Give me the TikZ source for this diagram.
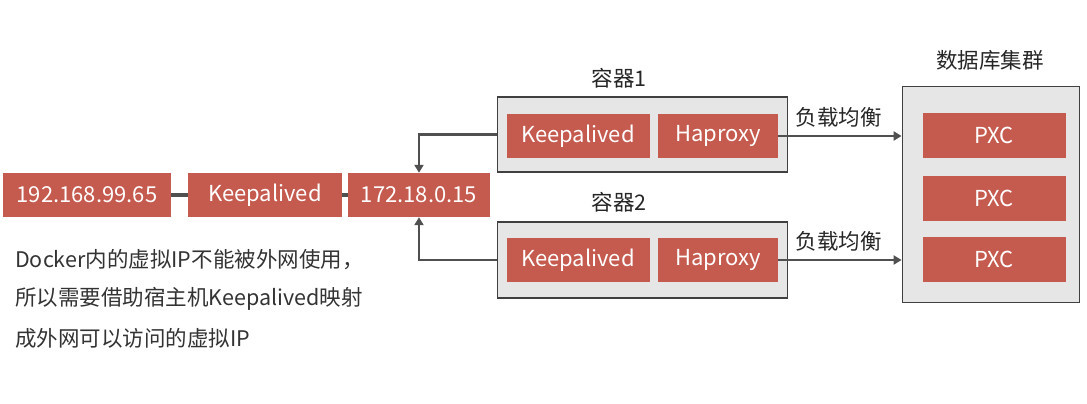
\documentclass[tikz,border=0pt]{standalone}
\usepackage{fontspec}
\setmainfont{Noto Sans CJK SC}
\usetikzlibrary{arrows.meta}
\definecolor{boxred}{HTML}{C55A4E}
\definecolor{grayfill}{HTML}{E6E6E6}
\definecolor{grayline}{HTML}{404040}
\definecolor{conn}{HTML}{505050}
\tikzset{
  redbox/.style={fill=boxred, draw=none, text=white, font=\fontsize{22}{24}\selectfont, anchor=center, inner sep=0pt},
  graybox/.style={fill=grayfill, draw=grayline, line width=1.8pt, inner sep=0pt},
  lbl/.style={font=\fontsize{21.5}{24}\selectfont, text=black!85, inner sep=0pt},
  note/.style={font=\fontsize{21.5}{24}\selectfont, text=black!80, inner sep=0pt},
  link/.style={draw=conn, line width=4.5pt},
  arr/.style={draw=conn, line width=2.8pt, -{Triangle[length=8pt,width=9pt]}},
}
\begin{document}
\begin{tikzpicture}[x=1pt,y=-1pt]
\useasboundingbox (0,0) rectangle (1087,404);
% left chain
\node[redbox, minimum width=168pt, minimum height=44pt] (ip1) at (87,195) {192.168.99.65};
\node[redbox, minimum width=154pt, minimum height=44pt] (kh) at (265,195) {Keepalived};
\node[redbox, minimum width=142pt, minimum height=44pt] (ip2) at (419,195) {172.18.0.15};
\draw[link] (ip1.east) -- (kh.west);
\draw[link] (kh.east) -- (ip2.west);
% containers
\node[graybox, minimum width=290pt, minimum height=75pt] (c1) at (642.5,134.5) {};
\node[graybox, minimum width=290pt, minimum height=76pt] (c2) at (642.5,260) {};
\node[redbox, minimum width=143pt, minimum height=44pt] (k1) at (578,136) {Keepalived};
\node[redbox, minimum width=120pt, minimum height=44pt] (h1) at (718,136) {Haproxy};
\node[redbox, minimum width=143pt, minimum height=44pt] (k2) at (578,260) {Keepalived};
\node[redbox, minimum width=120pt, minimum height=44pt] (h2) at (718,260) {Haproxy};
\node[lbl] (t1) at (619,78) {容器1};
\node[lbl] (t2) at (619,202) {容器2};
% cluster
\node[graybox, minimum width=177pt, minimum height=216pt] (cl) at (991,194.5) {};
\node[redbox, minimum width=143pt, minimum height=45pt] (p1) at (994,135.5) {PXC};
\node[redbox, minimum width=143pt, minimum height=45pt] (p2) at (994,198) {PXC};
\node[redbox, minimum width=143pt, minimum height=45pt] (p3) at (994,259) {PXC};
\node[lbl] (tc) at (990,60) {数据库集群};
% arrows
\draw[arr] (h1.east) -- (h1.east -| cl.west) node[lbl, midway, above=7pt, xshift=-1pt] (lb1) {负载均衡};
\draw[arr] (h2.east) -- (h2.east -| cl.west) node[lbl, midway, above=7pt, xshift=-1pt] (lb2) {负载均衡};
\draw[arr] (c1.west) -| (ip2.north);
\draw[arr] (c2.west) -| (ip2.south);
% note
\node[note, anchor=west] (n1) at (15,260) {Docker内的虚拟IP不能被外网使用，};
\node[note, anchor=west] (n2) at (15,299) {所以需要借助宿主机Keepalived映射};
\node[note, anchor=west] (n3) at (15,338) {成外网可以访问的虚拟IP};
\end{tikzpicture}
\end{document}
